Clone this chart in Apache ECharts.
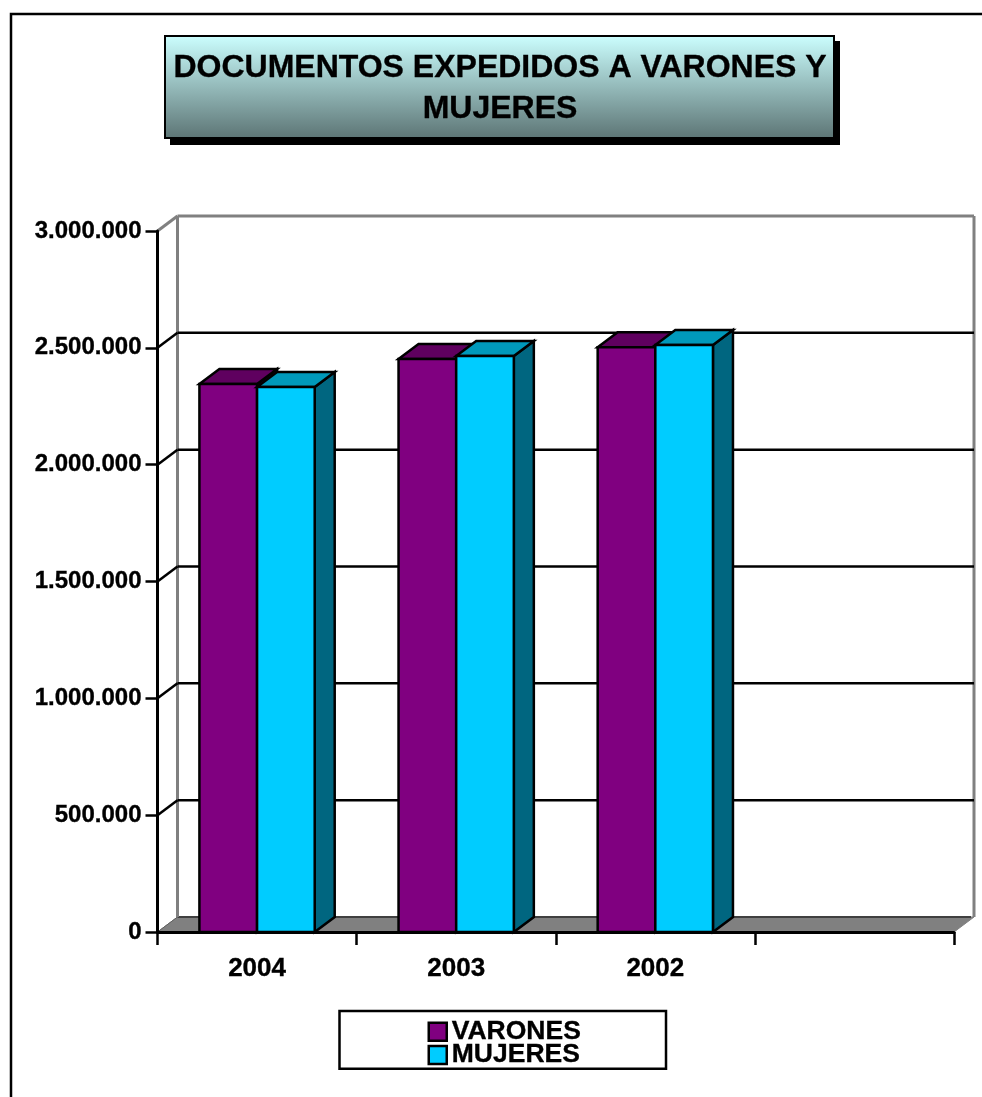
<!DOCTYPE html>
<html>
<head>
<meta charset="utf-8">
<style>html,body{margin:0;padding:0;background:#fff;overflow:hidden}#c{width:982px;height:1097px}</style>
<script src="https://cdn.jsdelivr.net/npm/echarts@6/dist/echarts.min.js"></script>
</head>
<body>
<div id="c"></div>
<script>
const titleText = 'DOCUMENTOS EXPEDIDOS A VARONES Y\nMUJERES';
const categories = ['2004', '2003', '2002', ''];
const varones = [2345000, 2452000, 2503000];
const mujeres = [2332000, 2465000, 2512000];
const yTicks = [0, 500000, 1000000, 1500000, 2000000, 2500000, 3000000];

const DX = 20, DY = -15;
const FONT = '"Liberation Sans", Arial, sans-serif';
const BOLDER = { textBorderColor: '#000', textBorderWidth: 0.35 };

function poly(points, fill, stroke, lw) {
  return { type: 'polygon', shape: { points }, style: { fill, stroke: stroke || '#000', lineWidth: lw === undefined ? 2.5 : lw } };
}
function line(x1, y1, x2, y2, stroke, lw) {
  return { type: 'line', shape: { x1, y1, x2, y2 }, style: { stroke, lineWidth: lw } };
}

function wallItem(params, api) {
  const cs = params.coordSys;
  const v = api.value(1);
  const y = api.coord([0, v])[1];
  const xl = cs.x, xr = cs.x + cs.width;
  const children = [];
  if (v === 0) {
    const back = y + DY;
    children.push(poly([[xl, y], [xr, y], [xr + DX, back], [xl + DX, back]], '#808080', '#808080', 1));
    children.push(line(xl + DX, back, xr + DX - 3, back, '#404040', 2));
    children.push(line(xl, y, xl + DX, back, '#606060', 1));
    const top = api.coord([0, yTicks[yTicks.length - 1]])[1] + DY;
    children.push(line(xl + DX, top, xl + DX, back, '#808080', 3));
    children.push(line(xr + DX, top, xr + DX, back, '#808080', 3));
  } else {
    const last = v === yTicks[yTicks.length - 1];
    const c = last ? '#808080' : '#000';
    children.push(line(xl + DX, y + DY, xr + DX, y + DY, c, last ? 3 : 2.5));
    children.push(line(xl, y, xl + DX, y + DY, c, last ? 3 : 2.5));
  }
  return { type: 'group', children };
}

function barItem(offsetIdx, front, top, side) {
  return function (params, api) {
    const base = api.coord([api.value(0), 0]);
    const head = api.coord([api.value(0), api.value(1)]);
    const w = api.size([1, 0])[0] * 0.2895;
    const x0 = base[0] - w + offsetIdx * w;
    const x1 = x0 + w;
    const y0 = head[1], y1 = base[1];
    return {
      type: 'group',
      children: [
        poly([[x1, y0], [x1 + DX, y0 + DY], [x1 + DX, y1 + DY], [x1, y1]], side),
        poly([[x0, y0], [x0 + DX, y0 + DY], [x1 + DX, y0 + DY], [x1, y0]], top),
        { type: 'rect', shape: { x: x0, y: y0, width: w, height: y1 - y0 }, style: { fill: front, stroke: '#000', lineWidth: 2.5 } }
      ]
    };
  };
}

const chart = echarts.init(document.getElementById('c'), null, { renderer: 'canvas', width: 982, height: 1097 });
chart.setOption({
  animation: false,
  backgroundColor: '#fff',
  title: {
    text: titleText,
    left: 500, top: 48, textAlign: 'center', padding: 0, z: 10,
    textStyle: { fontFamily: FONT, fontWeight: 'bold', fontSize: 32, lineHeight: 41, color: '#000', ...BOLDER }
  },
  graphic: [
    { type: 'rect', z: -10, shape: { x: 11, y: 14, width: 1100, height: 1200 }, style: { fill: '#fff', stroke: '#000', lineWidth: 2.5 } },
    { type: 'rect', z: 1, shape: { x: 170, y: 41, width: 670, height: 104 }, style: { fill: '#000' } },
    { type: 'rect', z: 2, shape: { x: 165, y: 36, width: 669, height: 102 },
      style: { stroke: '#000', lineWidth: 2,
        fill: { type: 'linear', x: 0, y: 0, x2: 0, y2: 1, colorStops: [{ offset: 0, color: '#ccffff' }, { offset: 1, color: '#5c7474' }] } } }
  ],
  legend: {
    data: ['VARONES', 'MUJERES'],
    orient: 'vertical', left: 339.5, top: 1011,
    selectedMode: false,
    icon: 'rect', itemWidth: 18, itemHeight: 18, itemGap: -4,
    padding: [7, 85, 0, 88],
    backgroundColor: '#fff', borderColor: '#000', borderWidth: 2.5,
    itemStyle: { borderColor: '#000', borderWidth: 2.5 },
    textStyle: { fontFamily: FONT, fontWeight: 'bold', fontSize: 26.5, lineHeight: 24, color: '#000', ...BOLDER }
  },
  grid: { left: 157.5, right: 28, top: 231, height: 701, containLabel: false },
  xAxis: {
    type: 'category', data: categories, z: 6,
    axisLine: { show: true, lineStyle: { color: '#000', width: 3 } },
    axisTick: { show: true, alignWithLabel: false, length: 13, lineStyle: { color: '#000', width: 2.5 } },
    axisLabel: { show: true, interval: 0, margin: 24, color: '#000', fontFamily: FONT, fontWeight: 'bold', fontSize: 26, ...BOLDER },
    splitLine: { show: false }
  },
  yAxis: {
    type: 'value', min: 0, max: 3000000, interval: 500000, z: 6,
    axisLine: { show: true, lineStyle: { color: '#000', width: 3 } },
    axisTick: { show: true, length: 12, lineStyle: { color: '#000', width: 2.5 } },
    axisLabel: { margin: 16, color: '#000', fontFamily: FONT, fontWeight: 'bold', fontSize: 24, ...BOLDER,
      formatter: v => String(v).replace(/\B(?=(\d{3})+$)/g, '.') },
    splitLine: { show: false }
  },
  tooltip: { show: false },
  series: [
    { type: 'custom', name: 'wall', z: 1, silent: true, clip: false,
      coordinateSystem: 'cartesian2d', encode: { x: 0, y: 1 },
      data: yTicks.map(v => [0, v]), renderItem: wallItem },
    { type: 'custom', name: 'VARONES', z: 3, silent: true, clip: false,
      itemStyle: { color: '#800080' }, encode: { x: 0, y: 1 },
      data: varones.map((v, i) => [i, v]),
      renderItem: barItem(0, '#800080', '#5f005f', '#5f005f') },
    { type: 'custom', name: 'MUJERES', z: 4, silent: true, clip: false,
      itemStyle: { color: '#00ccff' }, encode: { x: 0, y: 1 },
      data: mujeres.map((v, i) => [i, v]),
      renderItem: barItem(1, '#00ccff', '#0099bb', '#006680') }
  ]
});
</script>
</body>
</html>
